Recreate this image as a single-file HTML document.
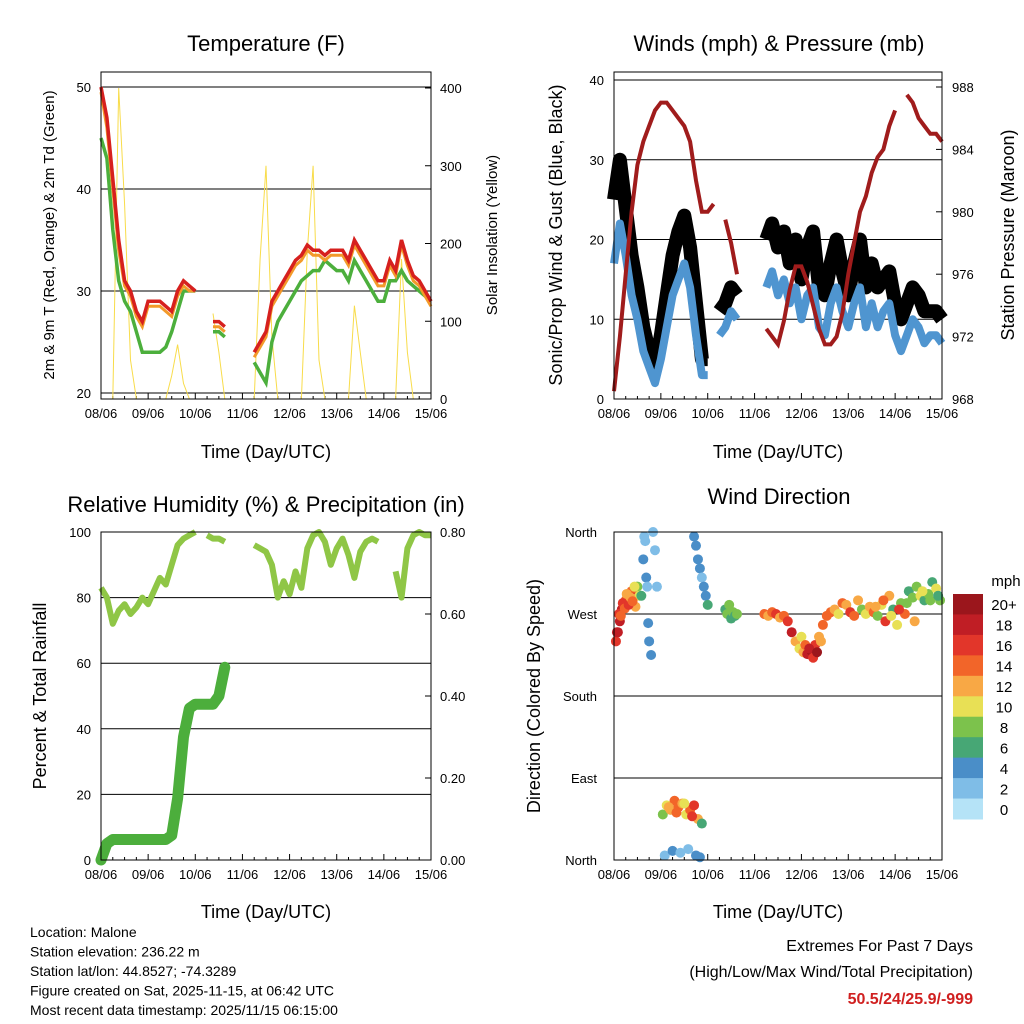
<!DOCTYPE html>
<html><head><meta charset="utf-8"><style>
html,body{margin:0;padding:0;background:#fff;}
svg{display:block;font-family:"Liberation Sans",sans-serif;}
</style></head><body>
<svg id="s" width="1024" height="1024" viewBox="0 0 1024 1024" xmlns="http://www.w3.org/2000/svg"></svg>
<script>
// ---------- DATA (3-hourly index, hour = 3*i, 08/06 00UTC start) ----------
const dayLabels = ["08/06","09/06","10/06","11/06","12/06","13/06","14/06","15/06"];
const tempRed = [50,47,41,35,31,30,28,27,29,29,29,28.5,28,30,31,30.5,30,null,null,27,27,26.5,null,null,null,null,24,25,26,29,30,31,32,33,33.5,34.5,34,34,33.5,34,34,34,33,35,34,33,32,31,31,33,32,35,33,31.5,31,30,29];
const tempOrange = [49.5,46,40,34,30.5,29.5,27.5,26.5,28.5,28.5,28.5,28,27.5,29.5,30.5,30,30,null,null,26.5,26.5,26,null,null,null,null,23.5,24.5,25.5,28.5,29.5,30.5,31.5,32.5,33,34,33.5,33.5,33,33.5,33.5,33.5,32.5,34.5,33.5,32.5,31.5,30.5,30.5,32.5,31.5,34.5,32.5,31,30.5,29.5,28.5];
const tempDew = [45,43,36,31,29,28,26,24,24,24,24,24.5,26,28,30,30,30,null,null,26,26,25.5,null,null,null,null,23,22,21,25,27,28,29,30,31,31.5,32,32,33,32.5,32,32,31,33,32,31,30,29,29,31,31,32,31,30.5,30,29.5,29];
const solar = [0,0,0,400,250,50,0,0,0,0,0,0,30,70,20,0,0,null,null,110,60,0,null,null,null,null,0,180,300,80,0,0,0,0,0,190,300,50,0,0,0,0,0,120,60,0,0,0,0,0,0,180,60,0,0,0,0];
const windSpd = [17,22,18,13,10,6,4,2,5,9,13,15,17,14,8,3,3,null,8,9,11,10,null,null,null,null,14,16,13,15,12,14,10,13,14,9,8,12,14,11,9,12,14,9,12,9,11,12,8,6,8,10,9,7,8,8,7];
const windGust = [25,30,24,18,14,9,6,4,8,13,18,21,23,19,12,5,5,null,11,12,14,13,null,null,null,null,20,22,19,21,17,20,15,19,21,14,13,17,20,16,13,17,20,14,17,14,15,16,12,10,12,14,13,11,11,11,10];
const pressure = [968.5,972,976,980,983,984.5,985.5,986.5,987,987,986.5,986,985.5,984.5,982,980,980,980.5,null,979.5,978,976,null,null,null,null,972.5,972,971.5,973,975,976.5,976.5,975.5,974,972.5,971.5,971.5,972,973.5,976,978,980,981,982.5,983.5,984,985.5,986.5,null,987.5,987,986,985.5,985,985,984.5];
const rh = [83,80,72,76,78,75,77,80,78,82,86,84,90,96,98,99,100,null,99,98,98,97,null,null,null,null,96,95,94,90,80,85,81,88,83,95,99,100,97,90,95,98,93,86,94,97,98,97,null,null,88,80,95,99,100,99,99];
const precip = [0,0.04,0.05,0.05,0.05,0.05,0.05,0.05,0.05,0.05,0.05,0.05,0.06,0.15,0.3,0.37,0.38,0.38,0.38,0.38,0.4,0.47];
// wind direction samples: hour, degrees, speed (mph)
const dirHour = [1,2,3,4,5,6,7,8,9,10,11,12,13,14,15,15.5,16,16.5,17,17.5,18,19,20,21,22,1.5,2.5,3.5,4.5,5.5,6.5,7.5,8.5,9.5,10.5,
  25,27,29,31,33,35,37,39,41,43,45,26,30,34,38,42,44,28,32,36,40,
  41,42,43,44,45,46,47,48, 57,58,59,60,61,62,63,
  77,79,81,83,85,87,89,91,93,95,97,99,101,103,105,107,109,111,113,115,117,119,121,123,125,127,129,131,
  96,98,100,102,104,106,
  133,135,137,139,141,143,145,147,149,151,153,155,157,159,161,163,165,167,134,138,142,146,150,154,158,162,166];
const dirDeg = [240,250,262,275,280,285,290,283,295,288,278,300,290,290,330,355,350,310,300,260,240,225,360,340,300,250,270,268,282,276,292,280,288,284,300,
  50,60,55,65,58,62,50,55,60,45,40,5,10,8,12,5,3,58,52,62,48,
  355,345,330,320,310,300,290,280, 275,270,280,265,272,268,270,
  270,268,272,270,266,268,262,250,240,232,228,226,230,236,245,258,268,272,275,270,282,280,272,268,285,275,270,278,
  245,236,232,222,228,240,
  272,268,280,262,290,275,258,282,270,295,288,300,290,285,292,305,298,285,278,285,268,275,282,262,295,285,290];
const dirSpd = [16,18,17,18,16,14,13,12,14,15,11,8,10,6,3,1,2,3,2,4,3,4,1,2,1,17,15,14,16,13,12,15,11,13,9,
  8,10,12,14,13,11,9,14,16,12,6,2,3,1,2,4,3,12,14,10,16,
  4,3,4,3,2,4,3,6, 6,8,7,6,8,6,7,
  14,12,13,15,12,14,16,18,12,10,11,18,20,16,12,14,13,14,12,10,14,12,15,14,12,8,10,12,
  10,14,18,16,20,12,
  14,8,10,16,12,6,9,8,14,6,8,7,10,6,8,6,9,7,12,14,10,16,8,12,10,8,6];
const spdLevels = ["0","2","4","6","8","10","12","14","16","18","20+"];
const spdColors = ["#b5e3f7","#7fbde7","#4a8ec8","#47a775","#7cc24c","#e8e055","#f8a845","#f26529","#e2362a","#c01e25","#9b161c"];

const S = document.getElementById('s');
const NS = 'http://www.w3.org/2000/svg';
function el(tag, attrs, parent){const e=document.createElementNS(NS,tag);for(const k in attrs)e.setAttribute(k,attrs[k]);(parent||S).appendChild(e);return e;}
function txt(str, x, y, size, anchor, rot, extra){const t=el('text',{x:x,y:y,'font-size':size,'text-anchor':anchor||'middle',fill:'#000'});if(rot)t.setAttribute('transform','rotate(-90 '+x+' '+y+')');if(extra)for(const k in extra)t.setAttribute(k,extra[k]);t.textContent=str;return t;}
function sc(d0,d1,r0,r1){return v=>r0+(v-d0)/(d1-d0)*(r1-r0);}
function pathFrom(vals, xf, yf){let d='',pen=false;vals.forEach((v,i)=>{if(v===null){pen=false;return;}d+=(pen?'L':'M')+xf(i*3).toFixed(1)+' '+yf(v).toFixed(1);pen=true;});return d;}

function frame(name){
  const g=el('g',{});
  return g;
}
function xAxis(g,x0,x1,yb,titleY){
  const xs=sc(0,168,x0,x1);
  dayLabels.forEach((l,i)=>{const x=xs(i*24);el('line',{x1:x,x2:x,y1:yb,y2:yb-6,stroke:'#000'},g);
    const t=txt(l,x,yb+19,13,'middle',false);g.appendChild(t);});
  for(let h=6;h<168;h+=6){if(h%24){const x=xs(h);el('line',{x1:x,x2:x,y1:yb,y2:yb-3,stroke:'#000'},g);}}
  const t=txt('Time (Day/UTC)',(x0+x1)/2,titleY,18);g.appendChild(t);
  return xs;
}

// ---------- PANEL 1: Temperature ----------
(function(){
  const x0=101,x1=431,y0=72,y1=399;
  const g=frame('temperature-panel');
  const ys=sc(20,50,393,87), yr=sc(0,400,399,88);
  [20,30,40,50].forEach(v=>{el('line',{x1:x0,x2:x1,y1:ys(v),y2:ys(v),stroke:'#000'},g);
    const t=txt(String(v),x0-10,ys(v)+5,13,'end');g.appendChild(t);});
  [0,100,200,300,400].forEach(v=>{el('line',{x1:x1,x2:x1-6,y1:yr(v),y2:yr(v),stroke:'#000'},g);
    const t=txt(String(v),x1+9,yr(v)+5,13,'start');g.appendChild(t);});
  const xs=xAxis(g,x0,x1,y1,458);
  const p1=el('path',{d:pathFrom(solar,xs,yr),fill:'none',stroke:'#f8dc4a','stroke-width':1},g);
  const p2=el('path',{d:pathFrom(tempDew,xs,ys),fill:'none',stroke:'#4caf3c','stroke-width':3.5},g);
  const p3=el('path',{d:pathFrom(tempOrange,xs,ys),fill:'none',stroke:'#f39a2a','stroke-width':3},g);
  const p4=el('path',{d:pathFrom(tempRed,xs,ys),fill:'none',stroke:'#d6201e','stroke-width':3.5},g);
  el('rect',{x:x0,y:y0,width:x1-x0,height:y1-y0,fill:'none',stroke:'#000'},g);
  let t=txt('Temperature (F)',266,51,22);
  t=txt('2m & 9m T (Red, Orange) & 2m Td (Green)',54,235,15,'middle',true);
  t=txt('Solar Insolation (Yellow)',497,235,15,'middle',true);
})();

// ---------- PANEL 2: Winds & Pressure ----------
(function(){
  const x0=614,x1=942,y0=72,y1=399;
  const g=frame('winds-panel');
  const ys=sc(0,40,399,80), yr=sc(968,988,399,87);
  [0,10,20,30,40].forEach(v=>{if(v>0)el('line',{x1:x0,x2:x1,y1:ys(v),y2:ys(v),stroke:'#000'},g);
    const t=txt(String(v),x0-10,ys(v)+5,13,'end');g.appendChild(t);});
  [968,972,976,980,984,988].forEach(v=>{el('line',{x1:x1,x2:x1-6,y1:yr(v),y2:yr(v),stroke:'#000'},g);
    const t=txt(String(v),x1+10,yr(v)+5,13,'start');g.appendChild(t);});
  const xs=xAxis(g,x0,x1,y1,458);
  const p1=el('path',{d:pathFrom(windGust,xs,ys),fill:'none',stroke:'#000','stroke-width':14,'stroke-linejoin':'round'},g);
  const p2=el('path',{d:pathFrom(windSpd,xs,ys),fill:'none',stroke:'#4f95d0','stroke-width':8,'stroke-linejoin':'round'},g);
  const p3=el('path',{d:pathFrom(pressure,xs,yr),fill:'none',stroke:'#a01c1c','stroke-width':4},g);
  el('rect',{x:x0,y:y0,width:x1-x0,height:y1-y0,fill:'none',stroke:'#000'},g);
  let t=txt('Winds (mph) & Pressure (mb)',779,51,22);
  t=txt('Sonic/Prop Wind & Gust (Blue, Black)',562,235,18,'middle',true);
  t=txt('Station Pressure (Maroon)',1014,235,18,'middle',true);
})();

// ---------- PANEL 3: RH & Precip ----------
(function(){
  const x0=101,x1=431,y0=532,y1=860;
  const g=frame('humidity-panel');
  const ys=sc(0,100,860,532), yr=sc(0,0.8,860,532);
  [0,20,40,60,80,100].forEach(v=>{if(v>0&&v<100)el('line',{x1:x0,x2:x1,y1:ys(v),y2:ys(v),stroke:'#000'},g);
    const t=txt(String(v),x0-10,ys(v)+5,13,'end');g.appendChild(t);});
  [0,0.2,0.4,0.6,0.8].forEach(v=>{el('line',{x1:x1,x2:x1-6,y1:yr(v),y2:yr(v),stroke:'#000'},g);
    const t=txt(v.toFixed(2),x1+9,yr(v)+5,13,'start');g.appendChild(t);});
  const xs=xAxis(g,x0,x1,y1,918);
  const p1=el('path',{d:pathFrom(rh,xs,ys),fill:'none',stroke:'#8fc646','stroke-width':6,'stroke-linejoin':'round'},g);
  const p2=el('path',{d:pathFrom(precip,xs,yr),fill:'none',stroke:'#4cae3c','stroke-width':11,'stroke-linejoin':'round','stroke-linecap':'round'},g);
  el('rect',{x:x0,y:y0,width:x1-x0,height:y1-y0,fill:'none',stroke:'#000'},g);
  let t=txt('Relative Humidity (%) & Precipitation (in)',266,512,22);
  t=txt('Percent & Total Rainfall',46,696,18,'middle',true);
})();

// ---------- PANEL 4: Wind direction ----------
(function(){
  const x0=614,x1=942,y0=532,y1=860;
  const g=frame('wind-direction-panel');
  const ys=sc(0,360,860,532);
  const names=["North","East","South","West","North"];
  names.forEach((n,i)=>{const v=i*90;if(i>0&&i<4)el('line',{x1:x0,x2:x1,y1:ys(v),y2:ys(v),stroke:'#000'},g);
    const t=txt(n,x0-17,ys(v)+5,13,'end');g.appendChild(t);});
  const xs=xAxis(g,x0,x1,y1,918);
  function colorFor(s){let k=Math.min(10,Math.max(0,Math.round(s/2)));return spdColors[k];}
  dirHour.forEach((h,i)=>{const c=el('circle',{cx:xs(h),cy:ys(dirDeg[i]),r:5,fill:colorFor(dirSpd[i])},g);
    
    });
  el('rect',{x:x0,y:y0,width:x1-x0,height:y1-y0,fill:'none',stroke:'#000'},g);
  let t=txt('Wind Direction',779,504,22);
  t=txt('Direction (Colored By Speed)',540,696,18,'middle',true);
  const lg=el('g',{},S);
  const bh=(819-594)/11;
  for(let k=10;k>=0;k--){const y=594+(10-k)*bh;
    el('rect',{x:953,y:y,width:30,height:bh+0.5,fill:spdColors[k]},lg);
    const lt=txt(spdLevels[k],1004,y+bh/2+6,15,'middle',false);
    
    }
  const mt=txt('mph',1006,586,15,'middle');
  
  
})();

// ---------- Footer ----------
(function(){
  const lines=["Location: Malone","Station elevation: 236.22 m","Station lat/lon: 44.8527; -74.3289","Figure created on Sat, 2025-11-15, at 06:42 UTC","Most recent data timestamp: 2025/11/15 06:15:00"];
  lines.forEach((l,i)=>{const t=txt(l,30,937+i*19.5,14,'start');});
  let t=txt('Extremes For Past 7 Days',973,951,16,'end');
  t=txt('(High/Low/Max Wind/Total Precipitation)',973,977,16,'end');
  t=txt('50.5/24/25.9/-999',973,1004,16,'end',false,{fill:'#d02020','font-weight':'bold'});
})();
</script>
</body></html>
